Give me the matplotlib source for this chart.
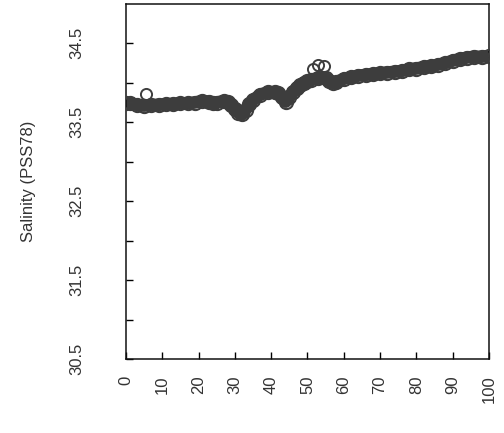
import matplotlib
matplotlib.use("Agg")
import matplotlib.pyplot as plt

plt.rcParams['font.family'] = ['Liberation Sans', 'DejaVu Sans']

# distance along section vs salinity
distance = [0, 1, 3, 5, 7, 9, 11, 13, 15, 17, 19, 21, 23, 24, 25, 27, 28, 29, 30,
            31, 32, 33, 34, 35, 37, 39, 41, 42, 43, 44, 45, 46, 47, 48, 49, 50,
            51, 53, 55, 56, 57, 58, 60, 62, 64, 66, 68, 70, 72, 74, 76, 78, 80,
            82, 84, 86, 88, 90, 92, 94, 96, 98, 100]
salinity = [33.74, 33.74, 33.72, 33.71, 33.72, 33.72, 33.73, 33.73, 33.74, 33.74,
            33.75, 33.77, 33.76, 33.74, 33.75, 33.77, 33.76, 33.72, 33.67,
            33.62, 33.60, 33.66, 33.73, 33.78, 33.85, 33.88, 33.88, 33.87, 33.82,
            33.76, 33.82, 33.88, 33.93, 33.97, 34.00, 34.02, 34.04, 34.06, 34.06,
            34.02, 34.00, 34.01, 34.05, 34.07, 34.09, 34.10, 34.11, 34.12, 34.13,
            34.14, 34.15, 34.17, 34.18, 34.20, 34.21, 34.23, 34.25, 34.28, 34.30,
            34.32, 34.33, 34.33, 34.34]

# open circles sitting above the band
out_x = [5.5, 51.5, 53.0, 54.5]
out_y = [33.86, 34.18, 34.22, 34.21]

y_ticks = [30.5, 31.0, 31.5, 32.0, 32.5, 33.0, 33.5, 34.0, 34.5]
y_labels = ['30.5', '', '31.5', '', '32.5', '', '33.5', '', '34.5']
x_ticks = [0, 10, 20, 30, 40, 50, 60, 70, 80, 90, 100]

band = '#3d3d3d'
text_col = '#333333'

fig = plt.figure(figsize=(5.04, 4.33), dpi=100)
ax = fig.add_axes([0.25, 0.171, 0.72, 0.82])

ax.plot(distance, salinity, color=band, linewidth=9, solid_capstyle='round',
        solid_joinstyle='round', zorder=2)
ax.plot(distance, salinity, linestyle='none', marker='o', markersize=9.5,
        markerfacecolor='none', markeredgecolor=band, markeredgewidth=1.5, zorder=3)
ax.plot(out_x, out_y, linestyle='none', marker='o', markersize=8,
        markerfacecolor='none', markeredgecolor=band, markeredgewidth=1.4, zorder=3)

ax.set_xlim(0, 100)
ax.set_ylim(30.5, 35.0)
ax.set_xticks(x_ticks)
ax.set_xticklabels([str(t) for t in x_ticks], rotation=90, fontsize=12, color=text_col)
ax.set_yticks(y_ticks)
ax.set_yticklabels(y_labels, rotation=90, va='center', fontsize=12, color=text_col)
ax.tick_params(axis='x', direction='in', length=5, width=1, pad=12)
ax.tick_params(axis='y', direction='in', length=5, width=1, pad=30)
for sp in ax.spines.values():
    sp.set_linewidth(1.1)
    sp.set_color('#111111')

ax.set_ylabel('Salinity (PSS78)', fontsize=12, color=text_col, labelpad=24)

fig.savefig('out.png', dpi=100)
